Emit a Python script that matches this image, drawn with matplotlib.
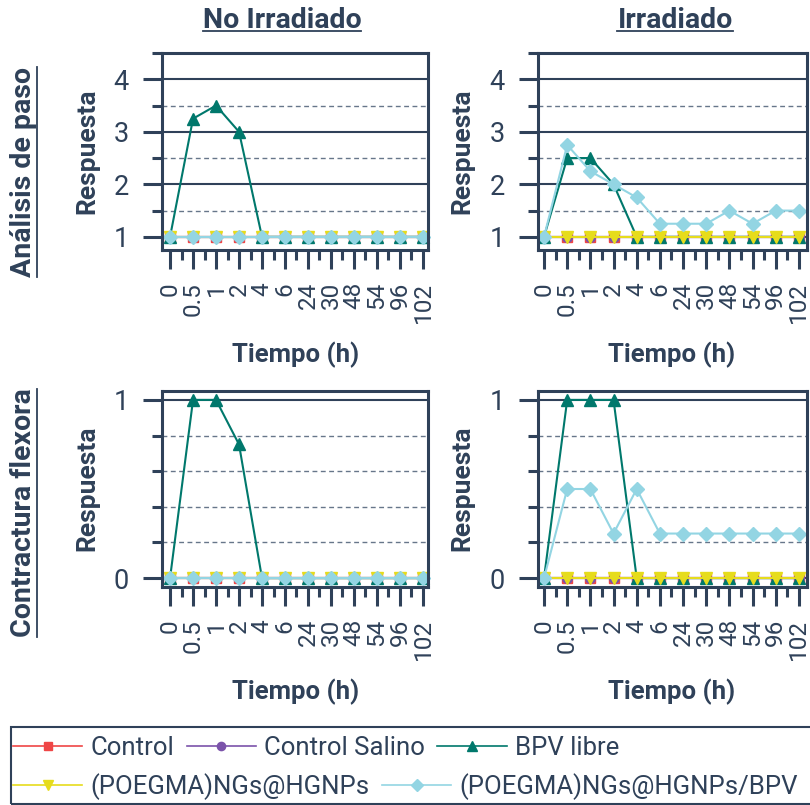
import matplotlib
matplotlib.use("Agg")
import matplotlib.pyplot as plt
from matplotlib.lines import Line2D
from matplotlib.patches import Rectangle
from matplotlib.ticker import FixedLocator

# ---------------- data ----------------
tiempos = ["0", "0.5", "1", "2", "4", "6", "24", "30", "48", "54", "96", "102"]
series = ["Control", "Control Salino", "BPV libre",
          "(POEGMA)NGs@HGNPs", "(POEGMA)NGs@HGNPs/BPV"]

# Análisis de paso, no irradiado
paso_noirr_control = [1, 1, 1, 1, 1, 1, 1, 1, 1, 1, 1, 1]
paso_noirr_salino = [1, 1, 1, 1, 1, 1, 1, 1, 1, 1, 1, 1]
paso_noirr_bpv = [1, 3.25, 3.5, 3, 1, 1, 1, 1, 1, 1, 1, 1]
paso_noirr_ngs = [1, 1, 1, 1, 1, 1, 1, 1, 1, 1, 1, 1]
paso_noirr_ngs_bpv = [1, 1, 1, 1, 1, 1, 1, 1, 1, 1, 1, 1]

# Análisis de paso, irradiado
paso_irr_control = [1, 1, 1, 1, 1, 1, 1, 1, 1, 1, 1, 1]
paso_irr_salino = [1, 1, 1, 1, 1, 1, 1, 1, 1, 1, 1, 1]
paso_irr_bpv = [1, 2.5, 2.5, 2, 1, 1, 1, 1, 1, 1, 1, 1]
paso_irr_ngs = [1, 1, 1, 1, 1, 1, 1, 1, 1, 1, 1, 1]
paso_irr_ngs_bpv = [1, 2.75, 2.25, 2, 1.75, 1.25, 1.25, 1.25, 1.5, 1.25, 1.5, 1.5]

# Contractura flexora, no irradiado
flex_noirr_control = [0, 0, 0, 0, 0, 0, 0, 0, 0, 0, 0, 0]
flex_noirr_salino = [0, 0, 0, 0, 0, 0, 0, 0, 0, 0, 0, 0]
flex_noirr_bpv = [0, 1, 1, 0.75, 0, 0, 0, 0, 0, 0, 0, 0]
flex_noirr_ngs = [0, 0, 0, 0, 0, 0, 0, 0, 0, 0, 0, 0]
flex_noirr_ngs_bpv = [0, 0, 0, 0, 0, 0, 0, 0, 0, 0, 0, 0]

# Contractura flexora, irradiado
flex_irr_control = [0, 0, 0, 0, 0, 0, 0, 0, 0, 0, 0, 0]
flex_irr_salino = [0, 0, 0, 0, 0, 0, 0, 0, 0, 0, 0, 0]
flex_irr_bpv = [0, 1, 1, 1, 0, 0, 0, 0, 0, 0, 0, 0]
flex_irr_ngs = [0, 0, 0, 0, 0, 0, 0, 0, 0, 0, 0, 0]
flex_irr_ngs_bpv = [0, 0.5, 0.5, 0.25, 0.5, 0.25, 0.25, 0.25, 0.25, 0.25, 0.25, 0.25]

col_titles = ["No Irradiado", "Irradiado"]
row_titles = ["Análisis de paso", "Contractura flexora"]

# ---------------- style ----------------
W, H = 810, 805
INK = "#2f4159"
GRID_MINOR = "#67768a"
colores = ["#ef4646", "#7b53aa", "#00786c", "#e6dc1c", "#93d5e3"]
marcadores = ["s", "o", "^", "v", "D"]
tam_marc = [7, 7, 9, 9, 6.8]

plt.rcParams["font.family"] = ["Roboto", "DejaVu Sans"]

fig = plt.figure(figsize=(W / 100, H / 100), dpi=100)
fig.patch.set_facecolor("white")


def fx(x):
    return x / W


def fy(y):
    return 1 - y / H


def axes_px(l, t, r, b):
    return fig.add_axes([fx(l), fy(b), fx(r - l), (b - t) / H])


paneles = [
    # (rect, xlim, ylim, majors, minors, data)
    ((162, 53, 428, 250), (-0.35, 11.22), (0.75, 4.5), [1, 2, 3, 4], [1.5, 2.5, 3.5, 4.5],
     [paso_noirr_control, paso_noirr_salino, paso_noirr_bpv, paso_noirr_ngs, paso_noirr_ngs_bpv]),
    ((538, 53, 807, 250), (-0.26, 11.35), (0.75, 4.5), [1, 2, 3, 4], [1.5, 2.5, 3.5, 4.5],
     [paso_irr_control, paso_irr_salino, paso_irr_bpv, paso_irr_ngs, paso_irr_ngs_bpv]),
    ((162, 391, 428, 587), (-0.35, 11.22), (-0.05, 1.05), [0, 1], [0.2, 0.4, 0.6, 0.8],
     [flex_noirr_control, flex_noirr_salino, flex_noirr_bpv, flex_noirr_ngs, flex_noirr_ngs_bpv]),
    ((538, 391, 807, 587), (-0.26, 11.35), (-0.05, 1.05), [0, 1], [0.2, 0.4, 0.6, 0.8],
     [flex_irr_control, flex_irr_salino, flex_irr_bpv, flex_irr_ngs, flex_irr_ngs_bpv]),
]

x = list(range(len(tiempos)))
ejes = []
for rect, xl, yl, majors, minors, datos in paneles:
    ax = axes_px(*rect)
    ejes.append(ax)
    ax.set_axisbelow(True)
    for vals, c, m, ms in zip(datos, colores, marcadores, tam_marc):
        ax.plot(x, vals, color=c, marker=m, markersize=ms, markeredgecolor=c,
                markeredgewidth=1, linewidth=1.5, clip_on=False)
    ax.set_xlim(*xl)
    ax.set_ylim(*yl)
    ax.xaxis.set_major_locator(FixedLocator(x))
    ax.xaxis.set_minor_locator(FixedLocator([i + 0.5 for i in x[:-1]]))
    ax.set_xticklabels(tiempos, rotation=90, fontsize=17.5, color=INK)
    ax.yaxis.set_major_locator(FixedLocator(majors))
    ax.yaxis.set_minor_locator(FixedLocator(minors))
    ax.set_yticklabels([f"{v:g}" for v in majors], fontsize=19.5, color=INK)
    ax.tick_params(axis="both", which="major", direction="out", length=14, width=2.2, color=INK)
    ax.tick_params(axis="both", which="minor", direction="out", length=7, width=2.2, color=INK)
    ax.tick_params(axis="x", which="major", pad=9)
    ax.tick_params(axis="y", which="major", pad=10)
    ax.yaxis.grid(True, which="major", color=INK, linewidth=1.5, linestyle="-")
    ax.yaxis.grid(True, which="minor", color=GRID_MINOR, linewidth=1.0, linestyle=(0, (3.5, 2.5)))
    for s in ax.spines.values():
        s.set_color(INK)
        s.set_linewidth(2.2)

# ---------------- labels ----------------
lab_kw = dict(color=INK, fontweight="bold", ha="center", va="center")
titulos = []
for t, cx in zip(col_titles, [282, 675]):
    titulos.append(fig.text(fx(cx), fy(21), t, fontsize=20.5, **lab_kw))

filas = []
for t, cy in zip(row_titles, [172, 513]):
    filas.append(fig.text(fx(24), fy(cy), t, fontsize=20.5, rotation=90, **lab_kw))

for cx in [87, 462]:
    for cy in [151, 488]:
        fig.text(fx(cx), fy(cy), "Respuesta", fontsize=19, rotation=90, **lab_kw)

for cx in [296, 672]:
    for cy in [355, 692]:
        fig.text(fx(cx), fy(cy), "Tiempo (h)", fontsize=18.5, **lab_kw)

# ---------------- legend ----------------
handles = [Line2D([], [], color=c, marker=m, markersize=ms * 0.85, markeredgecolor=c,
                  linewidth=1.2)
           for c, m, ms in zip(colores, marcadores, tam_marc)]
leg_kw = dict(frameon=False, handlelength=2.7, handletextpad=0.3,
              columnspacing=0.5, borderpad=0, borderaxespad=0, loc="center left",
              labelcolor=INK, prop={"size": 18.5})
leg1 = fig.legend(handles[:3], series[:3], ncol=3, bbox_to_anchor=(fx(13), fy(748)), **leg_kw)
leg2 = fig.legend(handles[3:], series[3:], ncol=2, bbox_to_anchor=(fx(13), fy(787)), **leg_kw)
fig.add_artist(Rectangle((fx(11), fy(804)), 1.0, (804 - 727) / H, transform=fig.transFigure,
                         fill=False, edgecolor=INK, linewidth=1.5, clip_on=False))

# ---------------- underlines ----------------
fig.canvas.draw()
r = fig.canvas.get_renderer()
inv = fig.transFigure.inverted()
for t in titulos:
    bb = t.get_window_extent(r)
    (x0, y0), (x1, _) = inv.transform([(bb.x0, bb.y0 + 3), (bb.x1, bb.y0 + 3)])
    fig.add_artist(Line2D([x0, x1], [y0, y0], color=INK, linewidth=1.3, transform=fig.transFigure))
for t in filas:
    bb = t.get_window_extent(r)
    (x0, y0), (_, y1) = inv.transform([(bb.x1 - 1, bb.y0), (bb.x1 - 1, bb.y1)])
    fig.add_artist(Line2D([x0, x0], [y0, y1], color=INK, linewidth=1.3, transform=fig.transFigure))

fig.savefig("out.png", dpi=100, facecolor="white")
